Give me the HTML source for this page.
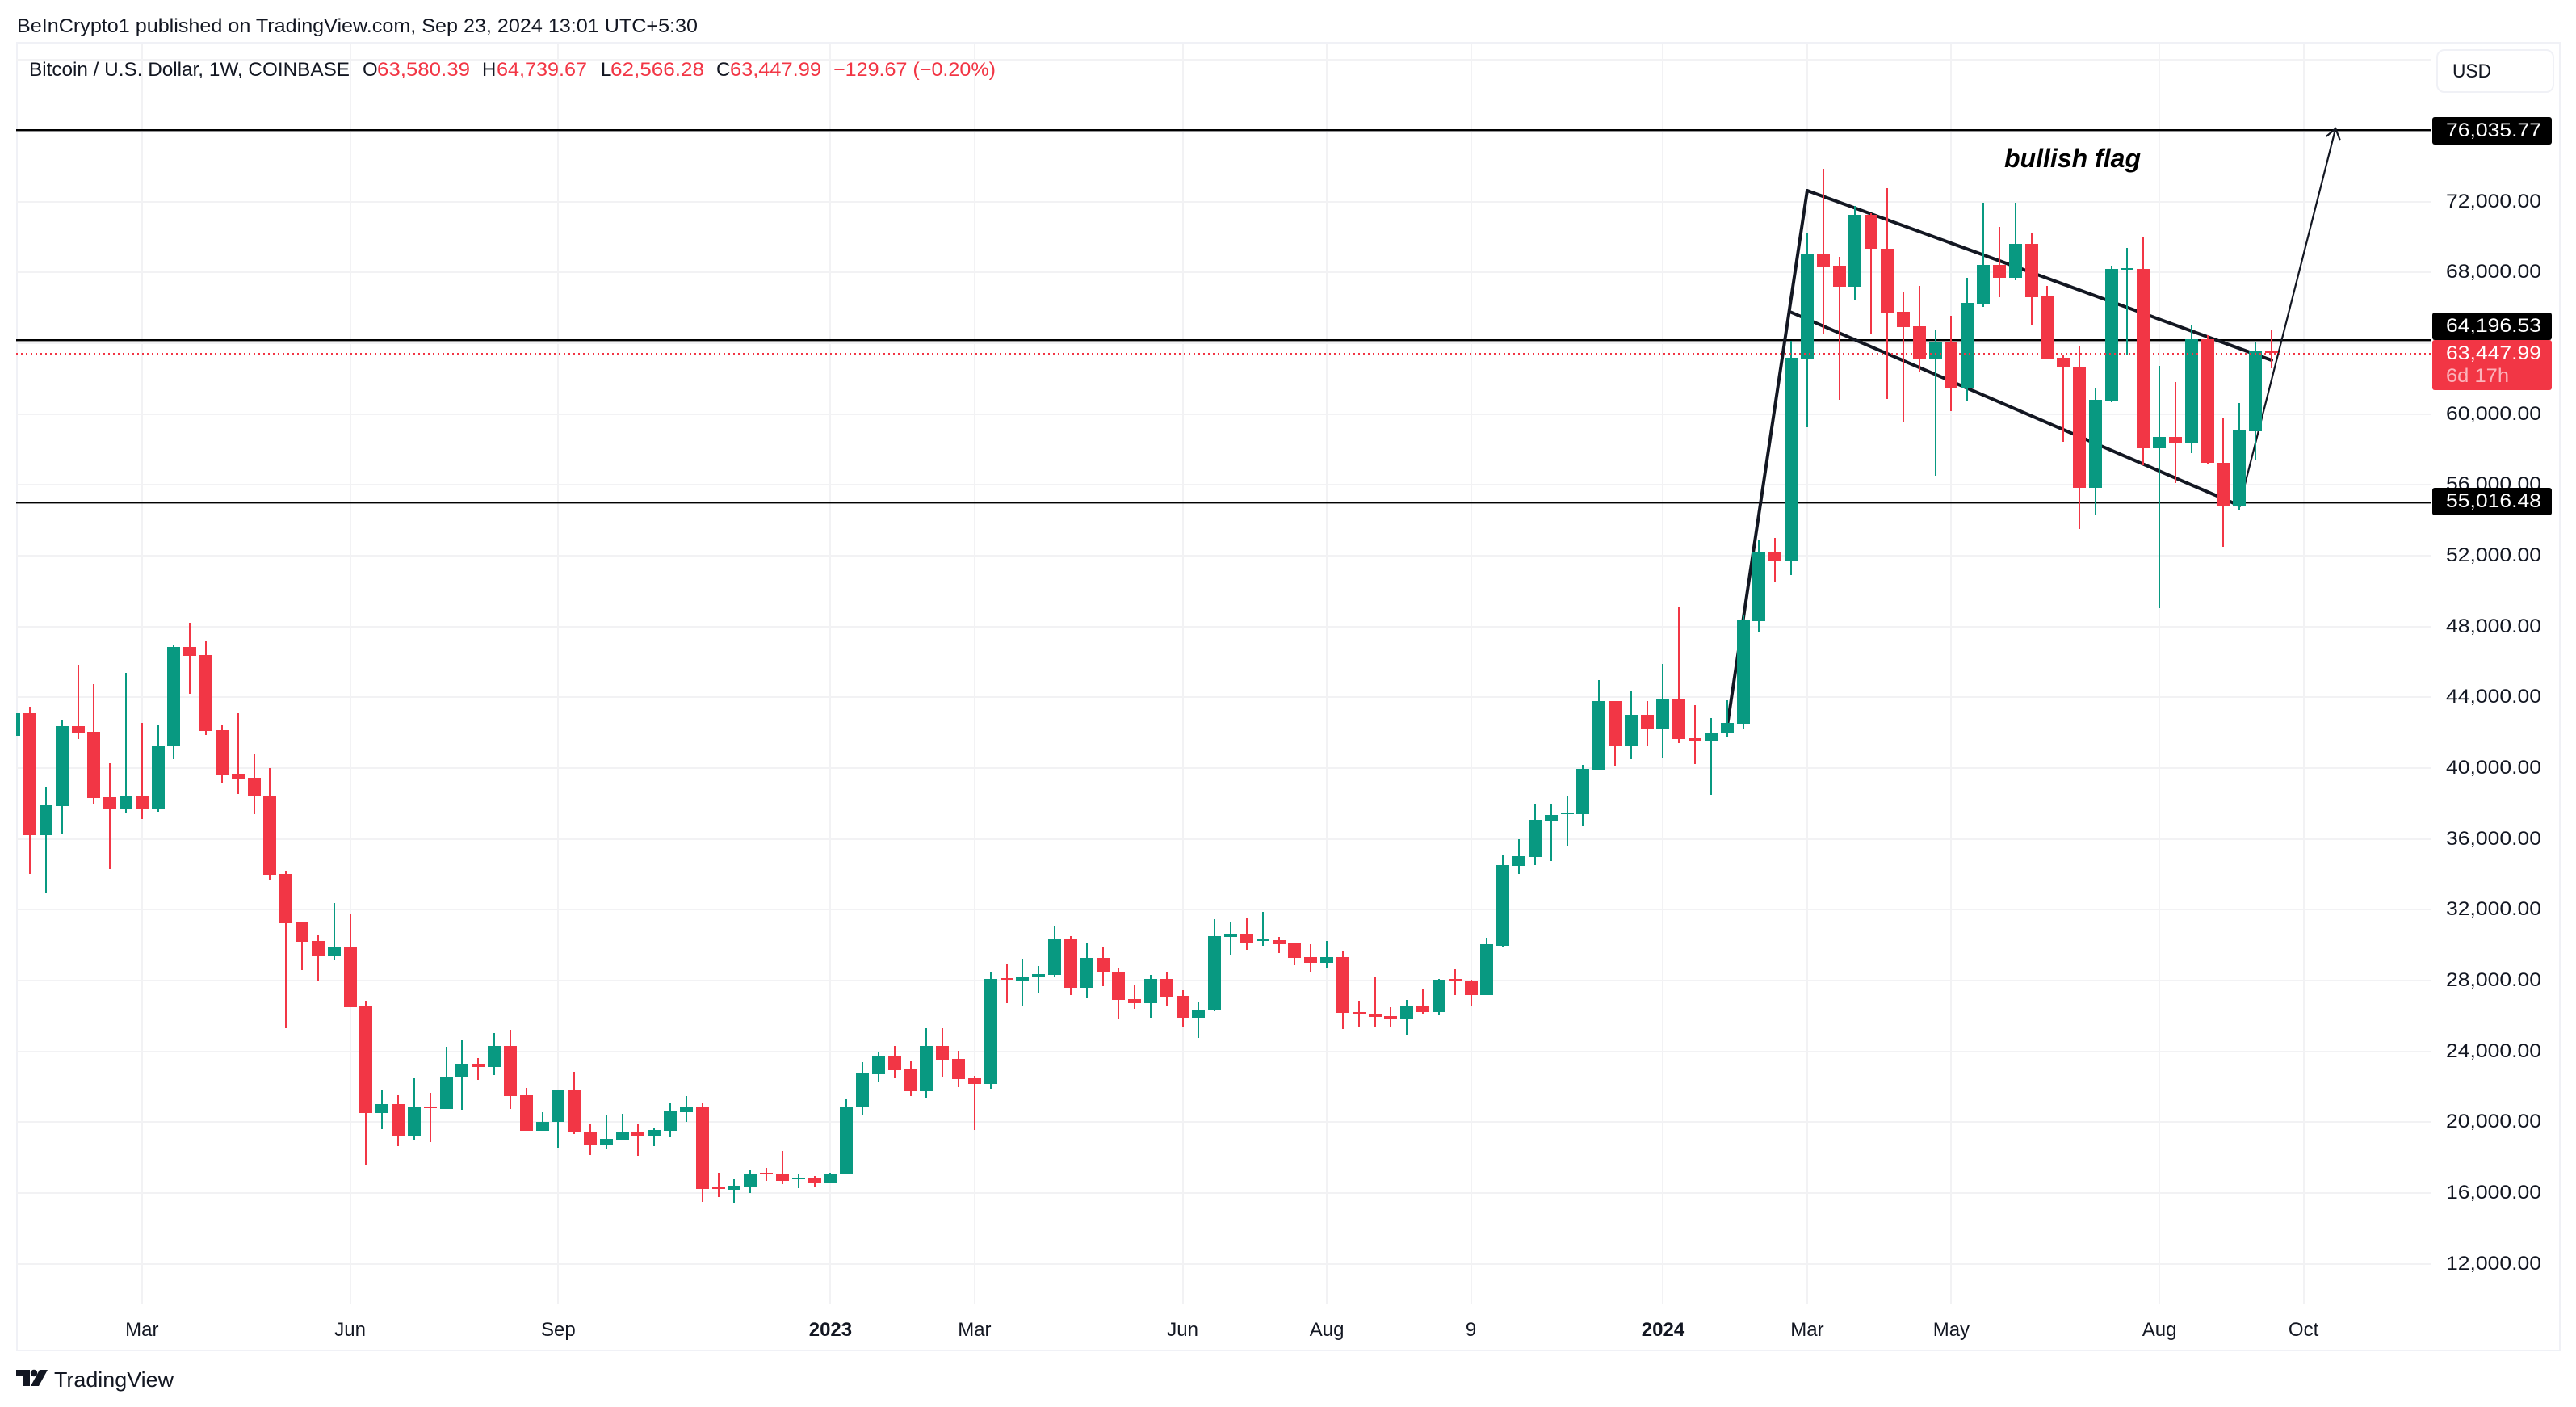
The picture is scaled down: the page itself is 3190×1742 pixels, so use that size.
<!DOCTYPE html>
<html>
<head>
<meta charset="utf-8">
<title>BTCUSD weekly candlestick chart</title>
<style>
html,body{margin:0;padding:0;background:#fff;}
svg{display:block;font-family:"Liberation Sans",sans-serif;}
</style>
</head>
<body>
<svg id="chart" xmlns="http://www.w3.org/2000/svg" width="3190" height="1742" viewBox="0 0 3190 1742">
  <rect x="0" y="0" width="3190" height="1742" fill="#ffffff"/>
  <text x="21" y="40" font-size="24" fill="#131722" textLength="843" lengthAdjust="spacingAndGlyphs">BeInCrypto1 published on TradingView.com, Sep 23, 2024 13:01 UTC+5:30</text>
  <g id="frame" fill="#f0f1f6">
    <rect x="20" y="52" width="3151" height="2"/>
    <rect x="20" y="52" width="2" height="1621"/>
    <rect x="3169" y="52" width="2" height="1621"/>
    <rect x="20" y="1671" width="3151" height="2"/>
  </g>
  <g id="grid"></g>
  <g id="drawings"></g>
  <g id="candles"></g>
  <g id="lastline"></g>
  <text x="2482" y="207" font-size="32" font-weight="bold" font-style="italic" fill="#000000" textLength="169" lengthAdjust="spacingAndGlyphs">bullish flag</text>

  <g font-size="24" fill="#131722">
    <text x="36" y="94" textLength="397" lengthAdjust="spacingAndGlyphs">Bitcoin / U.S. Dollar, 1W, COINBASE</text>
    <text x="449" y="94">O</text>
    <text x="467" y="94" fill="#f23645" textLength="115" lengthAdjust="spacingAndGlyphs">63,580.39</text>
    <text x="597" y="94">H</text>
    <text x="615" y="94" fill="#f23645" textLength="112" lengthAdjust="spacingAndGlyphs">64,739.67</text>
    <text x="744" y="94">L</text>
    <text x="756" y="94" fill="#f23645" textLength="116" lengthAdjust="spacingAndGlyphs">62,566.28</text>
    <text x="887" y="94">C</text>
    <text x="904" y="94" fill="#f23645" textLength="113" lengthAdjust="spacingAndGlyphs">63,447.99</text>
    <text x="1032" y="94" fill="#f23645" textLength="201" lengthAdjust="spacingAndGlyphs">−129.67 (−0.20%)</text>
  </g>

  <g id="yaxis"></g>
  <g id="xaxis"></g>
  <g id="tags"></g>

  <g>
    <rect x="3018" y="62" width="144" height="52" rx="9" fill="#ffffff" stroke="#f0f1f6" stroke-width="2"/>
    <text x="3037" y="96" font-size="24" fill="#131722" textLength="48" lengthAdjust="spacingAndGlyphs">USD</text>
  </g>

  <g>
    <g fill="#131722">
      <polygon points="20,1696 37,1696 37,1716 28,1716 28,1704 20,1704"/>
      <circle cx="42" cy="1700" r="4.2"/>
      <polygon points="49,1696 59,1696 48,1716 38,1716"/>
    </g>
    <text x="67" y="1717" font-size="26" fill="#131722" textLength="148" lengthAdjust="spacingAndGlyphs">TradingView</text>
  </g>
</svg>
<script>
const opens = [
41823,43097,36221,37862,42364,42049,38368,37670,38403,37722,
41229,46848,46377,42137,39676,39450,38455,34023,31283,30236,
29381,29869,26530,20531,21031,19258,20894,20758,22530,23303,
23121,24303,21530,19530,20000,21859,19436,18750,19025,19436,
19208,19528,20579,20899,16327,16190,16373,17150,17104,16784,
16830,16556,17059,20853,22682,23734,22957,21768,24282,23551,
22454,22179,28123,27986,28169,28306,30363,27574,29266,28489,
26934,26706,28077,27117,25883,26294,30455,30637,30226,30272,
30089,29311,28992,29311,26203,26111,25974,25791,26523,26203,
28077,27940,27163,29973,34487,34989,37041,37406,37406,39914,
43790,41282,43014,42239,43926,41692,41510,41966,42513,48313,
52182,51729,63111,69037,68357,67172,71268,69351,65760,64941,
63076,64035,61437,66213,68444,67677,69630,66632,63163,62658,
55842,60758,68150,68196,58059,58703,58342,64220,57242,54821,
59018,63580];
const highs = [
43097,43463,38943,42695,45836,44737,40270,45383,42556,42416,
46936,48209,47162,42416,43097,40775,40008,34215,31283,30603,
32382,31754,26848,21849,21530,22485,21667,24258,24667,23621,
25030,25212,21940,20576,21859,22819,19939,20396,20488,19939,
19710,21082,21494,21082,17150,16784,17333,17424,18385,17059,
16967,17150,21311,23368,23962,24282,23459,25288,25288,24008,
22591,28489,28946,29220,28809,31049,30500,30089,29860,28672,
27711,28306,28489,27437,26797,31460,31278,31552,31872,30455,
30135,30043,30226,29677,26843,28214,26477,26888,27529,28077,
28626,28031,30409,35126,35992,37998,37953,38454,40187,44975,
43790,44382,43790,45887,49079,43562,42832,43835,48644,52914,
52999,64122,70187,73830,68897,71773,71320,72767,66893,67259,
64714,65533,67677,71948,70588,71948,70187,67259,63337,63808,
61437,68357,69375,69972,62711,61800,65006,64456,59804,60621,
64094,64740];
const lows = [
41823,34023,32941,36256,41648,38001,34302,37443,37129,37530,
40497,44196,41875,39188,38542,37408,33709,25315,28596,28002,
29189,26502,17576,19622,18622,19031,18894,20758,20712,22394,
22667,20758,19530,19530,18537,19314,18156,18476,18979,18110,
18659,19162,20030,15504,15779,15459,16007,16693,16510,16281,
16327,16556,17059,20396,22316,22499,21494,21356,22545,21996,
19573,21905,26706,26523,27254,28169,27163,26980,27666,25837,
26386,25883,26523,25380,24740,26248,29449,29723,29952,29540,
28854,28489,28672,25243,25380,25334,25380,24923,26111,26020,
27163,26523,27163,29882,34031,34533,34761,35627,36722,39914,
40142,40506,41282,40598,41418,40233,38500,41783,42239,47711,
50543,50910,59241,64488,60792,66405,64488,60845,59572,62396,
56522,60165,60758,66056,66579,67555,64993,63111,58422,53506,
54274,60653,63356,57100,49037,56110,57792,57147,52495,54554,
57430,62566];
const closes = [
43097,36221,37896,42364,42015,38315,37670,38403,37722,41282,
46848,46342,42102,39641,39415,38403,33988,31248,30201,29381,
29869,26502,20531,21031,19258,20849,20803,22576,23303,23121,
24303,21485,19530,20030,21859,19406,18750,19070,19436,19208,
19573,20625,20899,16236,16236,16419,17104,17059,16693,16876,
16556,17104,20899,22728,23734,22911,21768,24282,23505,22408,
22179,28077,28031,28214,28351,30363,27574,29266,28443,26888,
26706,28077,27071,25883,26340,30500,30637,30135,30317,30043,
29266,28992,29311,26157,26066,25928,25791,26523,26203,28031,
27986,27163,30043,34533,35034,37086,37360,37497,39959,43790,
41282,43014,42239,43926,41646,41510,42011,42558,48348,52182,
51729,63163,69037,68270,67172,71268,69316,65708,64888,63076,
64035,61437,66265,68444,67677,69630,66579,63111,62623,55842,
60792,68183,68244,58059,58703,58342,64220,57242,54821,59065,
63544,63448];

const gridPrices = [80000,76000,72000,68000,64000,60000,56000,52000,48000,44000,40000,36000,32000,28000,24000,20000,16000,12000];
const axisPrices = [72000,68000,64000,60000,56000,52000,48000,44000,40000,36000,32000,28000,24000,20000,16000,12000];
const timeIndexes = [8,21,34,51,60,73,82,91,103,112,121,134,143];
const timeLabels = ["Mar","Jun","Sep","2023","Mar","Jun","Aug","9","2024","Mar","May","Aug","Oct"];
const levelPrices = [76035.77,64196.53,55016.48];
const lastPrice = 63447.99;
const poleBars = [107,112];
const polePrices = [42324,72620];
const upperBars = [112,141];
const upperPrices = [72620,63039];
const lowerBars = [111,139];
const lowerPrices = [65746,54826];
const arrowBars = [139,145];
const arrowPrices = [54826,76122];

const NS = 'http://www.w3.org/2000/svg';
const GREEN = '#089981', RED = '#f23645';
function xOf(i){ return 17.2 + 19.828 * i; }
function yOf(p){ return 775.6 + (48000 - p) * 0.021917; }
function make(tag, attrs, parent){
  const el = document.createElementNS(NS, tag);
  for (const k in attrs) el.setAttribute(k, attrs[k]);
  parent.appendChild(el);
  return el;
}
function fmt(p){ return p.toLocaleString('en-US',{minimumFractionDigits:2,maximumFractionDigits:2}); }

const gridG = document.getElementById('grid');
gridPrices.forEach(function(p){
  const el = make('rect',{x:20,y:Math.round(yOf(p))-1,width:2990,height:2,fill:'#f2f2f4'},gridG);
  
  
});
timeIndexes.forEach(function(i){
  const el = make('rect',{x:Math.round(xOf(i))-1,y:54,width:2,height:1561,fill:'#f2f2f4'},gridG);
  
  
});

const drawG = document.getElementById('drawings');
levelPrices.forEach(function(p){
  const el = make('rect',{x:20,y:Math.round(yOf(p))-1,width:2990,height:2.4,fill:'#000000'},drawG);
  
  
});
function seg(bars, prices, width, name){
  const el = make('line',{x1:xOf(bars[0]),y1:yOf(prices[0]),x2:xOf(bars[1]),y2:yOf(prices[1]),stroke:'#131722','stroke-width':width,'stroke-linecap':'round'},drawG);
  
  
  return el;
}
seg(poleBars, polePrices, 4, 'flagpole-line');
seg(upperBars, upperPrices, 4, 'flag-upper-line');
seg(lowerBars, lowerPrices, 4, 'flag-lower-line');
seg(arrowBars, arrowPrices, 2.2, 'projection-arrow-line');
(function(){
  const tipX = xOf(arrowBars[1]), tipY = yOf(arrowPrices[1]);
  const ang = Math.atan2(yOf(arrowPrices[0]) - tipY, xOf(arrowBars[0]) - tipX);
  const a1 = ang + 0.62, a2 = ang - 0.62, L = 15;
  const head = make('polyline',{points:(tipX+L*Math.cos(a1))+','+(tipY+L*Math.sin(a1))+' '+tipX+','+tipY+' '+(tipX+L*Math.cos(a2))+','+(tipY+L*Math.sin(a2)),fill:'none',stroke:'#131722','stroke-width':2.2},drawG);
  
  
})();

const candleG = document.getElementById('candles');
opens.forEach(function(o, i){
  const c = closes[i], h = highs[i], l = lows[i];
  const col = c >= o ? GREEN : RED;
  const cx = xOf(i);
  const left = Math.max(20, Math.round(cx - 8));
  const right = Math.round(cx + 8);
  const yTop = Math.round(yOf(Math.max(o, c)));
  const yBot = Math.round(yOf(Math.min(o, c)));
  const yH = Math.round(yOf(h)), yL = Math.round(yOf(l));
  if (cx > 20) {
    const w = make('rect',{x:Math.round(cx - 1),y:yH,width:2,height:Math.max(1,yL - yH),fill:col},candleG);
    
    
  }
  const b = make('rect',{x:left,y:yTop,width:right - left,height:Math.max(2,yBot - yTop),fill:col},candleG);
  
  
});

const lastG = document.getElementById('lastline');
const lastEl = make('line',{x1:20,x2:3010,y1:Math.round(yOf(lastPrice))+1,y2:Math.round(yOf(lastPrice))+1,stroke:RED,'stroke-width':2,'stroke-dasharray':'2 4'},lastG);



const yG = document.getElementById('yaxis');
axisPrices.forEach(function(p){
  const t = make('text',{x:3029,y:Math.round(yOf(p))+7,'font-size':24,fill:'#131722',textLength:118,lengthAdjust:'spacingAndGlyphs'},yG);
  t.textContent = fmt(p);
  
  
});

const xG = document.getElementById('xaxis');
timeIndexes.forEach(function(i, k){
  const lab = timeLabels[k];
  const t = make('text',{x:xOf(i),y:1654,'font-size':24,fill:'#131722','text-anchor':'middle','font-weight':lab.length === 4 ? 'bold' : 'normal'},xG);
  t.textContent = lab;
  
  
});

const tagG = document.getElementById('tags');
const tagCentres = [162,404,621];
levelPrices.forEach(function(p, k){
  const cy = tagCentres[k];
  const r = make('rect',{x:3012,y:cy - 17,width:148,height:34,rx:3,fill:'#000000'},tagG);
  
  
  const t = make('text',{x:3029,y:cy + 7,'font-size':24,fill:'#ffffff',textLength:118,lengthAdjust:'spacingAndGlyphs'},tagG);
  t.textContent = fmt(p);
  
  
});
const lastTag = make('rect',{x:3012,y:421,width:148,height:62,rx:3,fill:RED},tagG);


const lastTxt = make('text',{x:3029,y:445,'font-size':24,fill:'#ffffff',textLength:118,lengthAdjust:'spacingAndGlyphs'},tagG);
lastTxt.textContent = fmt(lastPrice);


const cdTxt = make('text',{x:3029,y:473,'font-size':24,fill:'#fbb4bb',textLength:78,lengthAdjust:'spacingAndGlyphs'},tagG);
cdTxt.textContent = '6d 17h';


</script>
</body>
</html>
